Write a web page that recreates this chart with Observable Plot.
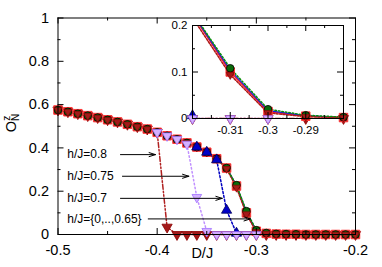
<!DOCTYPE html>
<html><head><meta charset="utf-8">
<script src="https://cdn.jsdelivr.net/npm/d3@7"></script>
<script src="https://cdn.jsdelivr.net/npm/@observablehq/plot@0.6"></script>
<style>
body{margin:0;background:#fff;}
#wrap{position:relative;width:382px;height:267px;overflow:hidden;}
#wrap svg{position:absolute;}
</style></head><body><div id="wrap"></div>
<script>
// ---- data ----
const D = [-0.50,-0.49,-0.48,-0.47,-0.46,-0.45,-0.44,-0.43,-0.42,-0.41,-0.40,-0.39,-0.38,-0.37,-0.36,-0.35,-0.34,-0.33,-0.32,-0.31,-0.30,-0.29,-0.28,-0.27,-0.26,-0.25,-0.24,-0.23,-0.22,-0.21,-0.20];
const O_h0   = [0.575,0.567,0.558,0.549,0.540,0.530,0.520,0.509,0.498,0.487,0.472,0.456,0.440,0.423,0.404,0.380,0.350,0.307,0.224,0.100,0.015,0.005,0.002,0.001,0.001,0,0,0,0,0,0];
const O_h03  = [0.575,0.567,0.558,0.549,0.540,0.530,0.520,0.509,0.498,0.487,0.472,0.456,0.440,0.423,0.404,0.380,0.350,0.307,0.228,0.108,0.020,0.007,0.003,0.002,0.001,0,0,0,0,0,0];
const O_h05  = [0.575,0.567,0.558,0.549,0.540,0.530,0.520,0.509,0.498,0.487,0.472,0.456,0.440,0.423,0.404,0.380,0.350,0.307,0.226,0.104,0.017,0.006,0.002,0.001,0.001,0,0,0,0,0,0];
const O_h065 = [0.575,0.567,0.558,0.549,0.540,0.530,0.520,0.509,0.498,0.487,0.472,0.456,0.440,0.423,0.404,0.380,0.350,0.304,0.217,0.094,0.012,0.004,0.002,0.001,0,0,0,0,0,0,0];
const D_h07  = [-0.36,-0.35,-0.34,-0.33,-0.32];
const O_h07  = [0.404,0.380,0.345,0.112,0.006];
const D_h075 = [-0.40,-0.39,-0.38,-0.37,-0.36,-0.35,-0.34,-0.33,-0.32,-0.31,-0.30];
const O_h075 = [0.472,0.456,0.440,0.418,0.172,0.015,0,0,0,0,0];
const O_h08  = [0.575,0.567,0.558,0.549,0.540,0.530,0.520,0.509,0.498,0.487,0.472,0.034,0,0,0,0,0,0,0,0,0,0,0,0,0,0,0,0,0,0,0];
const arrowLabels = ["h/J=0.8","h/J=0.75","h/J=0.7","h/J={0,..,0.65}"];
const arrowY  = [0.369,0.269,0.167,0.072];
const arrowX1 = [-0.437,-0.435,-0.437,-0.409];
const arrowX2 = [-0.4017,-0.368,-0.3344,-0.306];
const labelX = -0.4907;
const xMajor = [-0.5,-0.4,-0.3,-0.2], xMinor = [-0.45,-0.35,-0.25];
const yMajor = [0,0.2,0.4,0.6,0.8,1], yMinor = [0.1,0.3,0.5,0.7,0.9];
const ixMajor = [-0.31,-0.3,-0.29], ixMinor = [-0.315,-0.305,-0.295,-0.285];
const iyMajor = [0,0.1,0.2], iyMinor = [0.05,0.15];

// ---- build ----
const rec = (xs, ys) => xs.map((d, i) => ({D: d, O: ys[i]}));
const s0 = rec(D, O_h0), s03 = rec(D, O_h03), s05 = rec(D, O_h05), s065 = rec(D, O_h065);
const s07 = rec(D_h07, O_h07), s075 = rec(D_h075, O_h075), s08 = rec(D, O_h08);
const arrows = arrowLabels.map((t, i) => ({label: t, y: arrowY[i], x1: arrowX1[i], x2: arrowX2[i]}));
const font = "'Liberation Sans', Arial, Helvetica, sans-serif";

function frameTicks(xMaj, xMin, yMaj, yMin, fw, fh, maj, mn) {
  const m = [];
  for (const [vals, len] of [[xMaj, maj], [xMin, mn]]) {
    m.push(Plot.ruleX(vals, {x: d => d, insetTop: fh - len, stroke: "black"}));
    m.push(Plot.ruleX(vals, {x: d => d, insetBottom: fh - len, stroke: "black"}));
  }
  for (const [vals, len] of [[yMaj, maj], [yMin, mn]]) {
    m.push(Plot.ruleY(vals, {y: d => d, insetRight: fw - len, stroke: "black"}));
    m.push(Plot.ruleY(vals, {y: d => d, insetLeft: fw - len, stroke: "black"}));
  }
  return m;
}

function seriesMarks(filt, clip) {
  const f = filt || (a => a);
  const L = (data, o) => Plot.line(data, {x: "D", y: "O", clip, ...o});
  return [
    L(s0,   {stroke: "#ff2020", strokeWidth: 1.5}),
    L(s05,  {stroke: "#1a1ae6", strokeWidth: 1.3}),
    L(s065, {stroke: "#b01818", strokeWidth: 1.5, strokeDasharray: "2,1.5"}),
    L(s03,  {stroke: "#0a900a", strokeWidth: 1.5, strokeDasharray: "1.5,2"}),
    L(s07,  {stroke: "#0000c0", strokeWidth: 1.5, strokeDasharray: "2,2"}),
    L(s075, {stroke: "#c090ff", strokeWidth: 1.5, strokeDasharray: "1.5,2.5"}),
    L(s08,  {stroke: "#b02020", strokeWidth: 1.5, strokeDasharray: "5,2,1.5,2,1.5,2"}),
    Plot.dot(f(s08),  {x: "D", y: "O", symbol: "triangle", rotate: 180, r: 3.8, fill: "#a51a1a", stroke: "#8a0000", strokeWidth: 0.8}),
    Plot.dot(f(s0),   {x: "D", y: "O", symbol: "square", r: 4.8, fill: "#b01818", stroke: "#ff3838", strokeWidth: 1}),
    Plot.dot(f(s03),  {x: "D", y: "O", r: 3.8, fill: "#0a6a0a", stroke: "#000", strokeWidth: 0.8}),
    Plot.dot(f(s065), {x: "D", y: "O", symbol: "triangle", rotate: 180, r: 3.0, fill: "#a51a1a", stroke: "#8a0000", strokeWidth: 0.6}),
    Plot.dot(f(s07),  {x: "D", y: "O", symbol: "triangle", r: 3.8, fill: "#0000c8", stroke: "#00005a", strokeWidth: 0.8}),
    Plot.dot(f(s075), {x: "D", y: "O", symbol: "triangle", rotate: 180, r: 3.6, fill: "#d4b0ff", stroke: "#a070ff", strokeWidth: 0.8})
  ];
}

const main = Plot.plot({
  width: 382, height: 267,
  marginLeft: 57.5, marginRight: 27, marginTop: 17.5, marginBottom: 33,
  style: {fontFamily: font, fontSize: "14.5px", background: "transparent", overflow: "visible"},
  x: {domain: [-0.5, -0.2]},
  y: {domain: [0, 1]},
  marks: [
    ...seriesMarks(null, false),
    Plot.arrow(arrows, {x1: "x1", x2: "x2", y1: "y", y2: "y", headLength: 10, headAngle: 35, stroke: "black", strokeWidth: 1}),
    Plot.text(arrows, {x: () => labelX, y: "y", text: "label", textAnchor: "start", fontSize: 12, fill: "black"}),
    ...frameTicks(xMajor, xMinor, yMajor, yMinor, 297.5, 216.5, 6, 3),
    Plot.frame({stroke: "black"}),
    Plot.axisX(xMajor, {tickSize: 0, tickPadding: 10, tickFormat: d => String(d), label: null}),
    Plot.axisY(yMajor, {tickSize: 0, tickPadding: 9, tickFormat: d => String(d), label: null}),
    Plot.text(["D/J"], {frameAnchor: "bottom", dx: -4.5, dy: 23, text: d => d, fontSize: 14.5, fill: "black"})
  ]
});

const inDom = a => a.filter(d => d.D >= -0.3205 && d.D <= -0.2795 && d.O <= 0.2);
const inset = Plot.plot({
  width: 190, height: 140,
  marginLeft: 32, marginRight: 7, marginTop: 25, marginBottom: 22,
  style: {fontFamily: font, fontSize: "11.5px", background: "transparent", overflow: "visible"},
  x: {domain: [-0.32, -0.28]},
  y: {domain: [0, 0.2]},
  marks: [
    Plot.frame({fill: "white"}),
    ...seriesMarks(inDom, true),
    ...frameTicks(ixMajor, ixMinor, iyMajor, iyMinor, 151, 93, 6, 3),
    Plot.frame({stroke: "black"}),
    Plot.axisX(ixMajor, {tickSize: 0, tickPadding: 7, tickFormat: d => String(d), label: null}),
    Plot.axisY(iyMajor, {tickSize: 0, tickPadding: 5, tickFormat: d => String(d), label: null})
  ]
});

const wrap = document.getElementById("wrap");
main.style.left = "0px"; main.style.top = "0px";
inset.style.left = "160px"; inset.style.top = "0px";
wrap.appendChild(main);
wrap.appendChild(inset);

// y-axis label O_N^z
const lab = d3.select(main).append("text")
  .attr("transform", "translate(16,123) rotate(-90)")
  .attr("text-anchor", "middle")
  .attr("font-family", font).attr("font-size", 14.5).attr("fill", "black");
lab.append("tspan").text("O");
lab.append("tspan").attr("font-size", 10).attr("dy", 3).text("N");
lab.append("tspan").attr("font-size", 10).attr("dx", -7).attr("dy", -9).text("z");
</script></body></html>
